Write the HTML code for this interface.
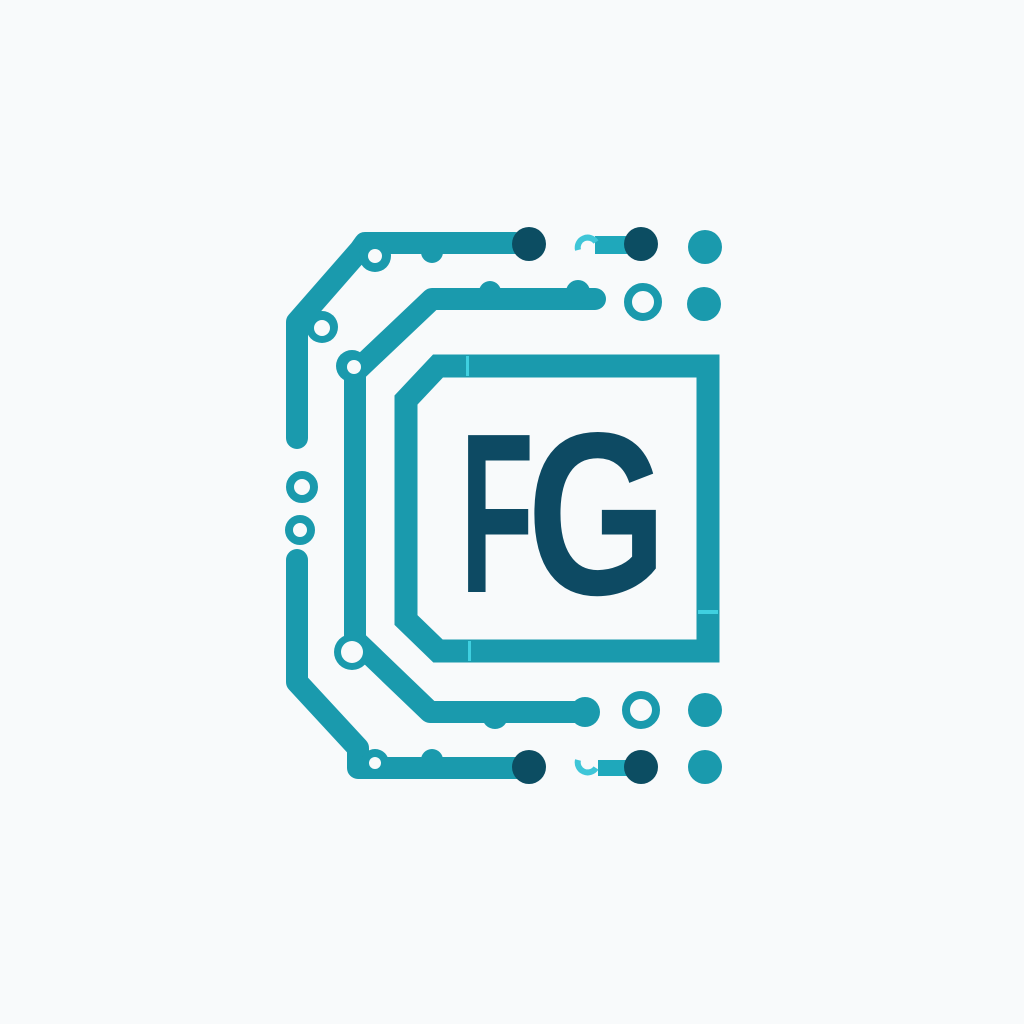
<!DOCTYPE html>
<html><head><meta charset="utf-8"><style>
html,body{margin:0;padding:0;background:#f8fafb;}
svg{display:block}
</style></head><body>
<svg width="1024" height="1024" viewBox="0 0 1024 1024">
<rect width="1024" height="1024" fill="#f8fafb"/>
<g fill="none" stroke="#1a9aad" stroke-width="22" stroke-linejoin="round" stroke-linecap="round">
  <path d="M515,243 L365,243 L360,250 L297,322 L297,438"/>
  <path d="M297,560 L297,682 L358,748 L358,768 L520,768"/>
  <path d="M595,299 L432,299 L355,372 L355,640 L430,712 L588,712"/>
  <path stroke-width="23" stroke-linecap="butt" stroke-linejoin="miter" d="M708,366 L438,366 L406,400 L406,620 L438,651 L708,651 Z"/>
</g>
<g fill="#1a9aad">
  <circle cx="432" cy="252" r="11"/><circle cx="490" cy="292" r="11"/><circle cx="578" cy="292" r="12"/>
  <circle cx="495" cy="716" r="13"/><circle cx="585" cy="712" r="15"/><circle cx="432" cy="760" r="11"/>
  <circle cx="375" cy="256" r="16"/><circle cx="322" cy="327" r="16"/><circle cx="352" cy="366" r="16"/>
  <circle cx="352" cy="652" r="18"/><circle cx="375" cy="763" r="14"/>
</g>
<g fill="#f8fafb">
  <circle cx="375" cy="256" r="7"/><circle cx="322" cy="328" r="8"/><circle cx="354" cy="367" r="7"/>
  <circle cx="352" cy="652" r="11"/><circle cx="375" cy="763" r="6"/>
</g>
<rect x="466" y="356" width="3" height="20" fill="#3fd0e0"/>
<rect x="468" y="641" width="3" height="20" fill="#3fd0e0"/>
<rect x="698" y="610" width="20" height="4" fill="#3fd0e0"/>
<g fill="none" stroke="#1a9aad" stroke-width="8">
  <circle cx="302" cy="487" r="12"/><circle cx="300" cy="530" r="11"/>
  <circle cx="643" cy="302" r="15"/><circle cx="641" cy="710" r="15"/>
</g>
<g fill="#1a9aad">
  <circle cx="705" cy="247" r="17"/><circle cx="704" cy="304" r="17"/>
  <circle cx="705" cy="710" r="17"/><circle cx="705" cy="767" r="17"/>
</g>
<g>
  <rect x="595" y="236" width="32" height="18" fill="#1fa8bb"/>
  <path d="M578,250 a10,10 0 0 1 18,-8" stroke="#3fc6d8" stroke-width="6" fill="none"/>
  <rect x="598" y="760" width="30" height="16" fill="#1fa8bb"/>
  <path d="M578,760 a10,10 0 0 0 18,8" stroke="#3fc6d8" stroke-width="6" fill="none"/>
</g>
<g fill="#0c4d62">
  <circle cx="529" cy="244" r="17"/><circle cx="641" cy="244" r="17"/>
  <circle cx="529" cy="767" r="17"/><circle cx="641" cy="767" r="17"/>
</g>
<g font-family="'Liberation Sans', sans-serif" font-weight="bold" fill="#0d4a63">
  <text x="460" y="592" font-size="228" textLength="74" lengthAdjust="spacingAndGlyphs">F</text>
  <text x="527" y="594" font-size="232" textLength="140" lengthAdjust="spacingAndGlyphs">G</text>
</g>
</svg>
</body></html>
